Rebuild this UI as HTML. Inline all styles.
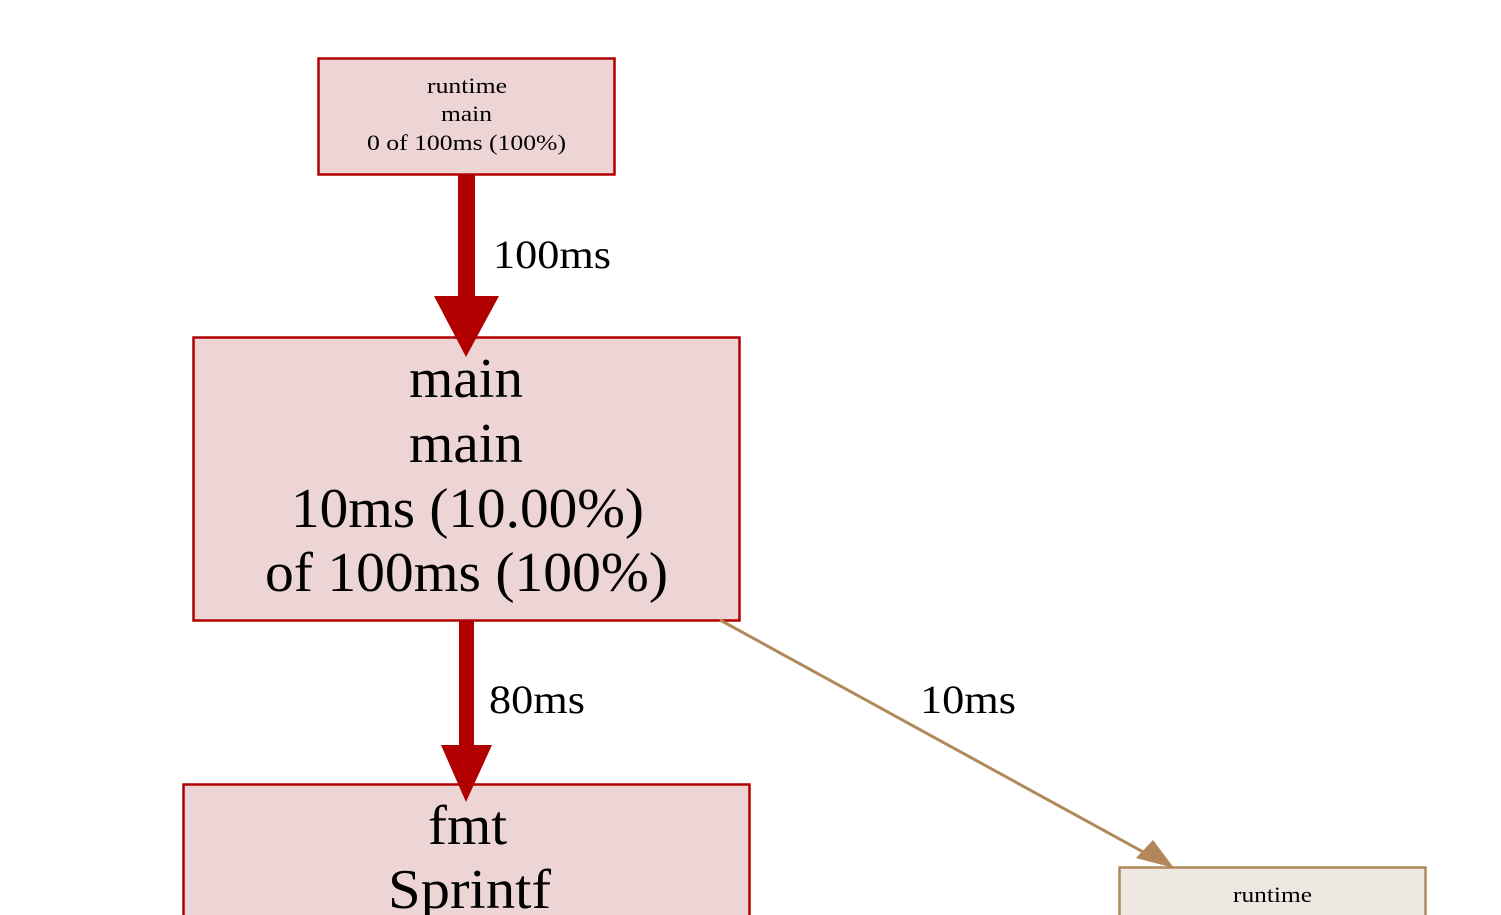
<!DOCTYPE html>
<html><head><meta charset="utf-8"><style>
html,body{margin:0;padding:0;background:#fff;width:1501px;height:915px;overflow:hidden}
text{font-family:"Liberation Serif",serif;fill:#000}
</style></head><body>
<svg width="1501" height="915" xmlns="http://www.w3.org/2000/svg">
<!-- top node -->
<rect x="318.5" y="58.5" width="296" height="116" fill="#edd5d5" stroke="#b20000" stroke-width="2.5"/>
<text x="427" y="93" font-size="22" textLength="80" lengthAdjust="spacingAndGlyphs">runtime</text>
<text x="441" y="121" font-size="22" textLength="51" lengthAdjust="spacingAndGlyphs">main</text>
<text x="367" y="150" font-size="22" textLength="199" lengthAdjust="spacingAndGlyphs">0 of 100ms (100%)</text>
<!-- main node -->
<rect x="193.5" y="337.5" width="546" height="283" fill="#edd5d5" stroke="#b20000" stroke-width="2.5"/>
<text x="409" y="397" font-size="56" textLength="114" lengthAdjust="spacingAndGlyphs">main</text>
<text x="409" y="462" font-size="56" textLength="114" lengthAdjust="spacingAndGlyphs">main</text>
<text x="291" y="527" font-size="56" textLength="353" lengthAdjust="spacingAndGlyphs">10ms (10.00%)</text>
<text x="265" y="591" font-size="56" textLength="403" lengthAdjust="spacingAndGlyphs">of 100ms (100%)</text>
<!-- fmt node -->
<rect x="183.5" y="784.5" width="566" height="150" fill="#edd5d5" stroke="#b20000" stroke-width="2.5"/>
<text x="428" y="844" font-size="56" textLength="79" lengthAdjust="spacingAndGlyphs">fmt</text>
<text x="388" y="908" font-size="56" textLength="163" lengthAdjust="spacingAndGlyphs">Sprintf</text>
<!-- runtime node -->
<rect x="1119.5" y="867.5" width="306" height="80" fill="#ede8e2" stroke="#b2885a" stroke-width="2.5"/>
<text x="1233" y="902" font-size="22" textLength="79" lengthAdjust="spacingAndGlyphs">runtime</text>
<!-- edge 100ms -->
<rect x="458" y="175" width="17" height="123" fill="#b20000"/>
<polygon points="434,296 499,296 466,357" fill="#b20000"/>
<text x="493" y="268" font-size="40" textLength="118" lengthAdjust="spacingAndGlyphs">100ms</text>
<!-- edge 80ms -->
<rect x="459" y="621" width="15" height="126" fill="#b20000"/>
<polygon points="441,745 492,745 466,802" fill="#b20000"/>
<text x="489" y="713" font-size="40" textLength="96" lengthAdjust="spacingAndGlyphs">80ms</text>
<!-- edge 10ms -->
<line x1="720" y1="620" x2="1145" y2="853" stroke="#b2885a" stroke-width="3"/>
<polygon points="1136,858 1153,840 1174,868" fill="#b2885a"/>
<text x="920" y="713" font-size="40" textLength="96" lengthAdjust="spacingAndGlyphs">10ms</text>
</svg>
</body></html>
